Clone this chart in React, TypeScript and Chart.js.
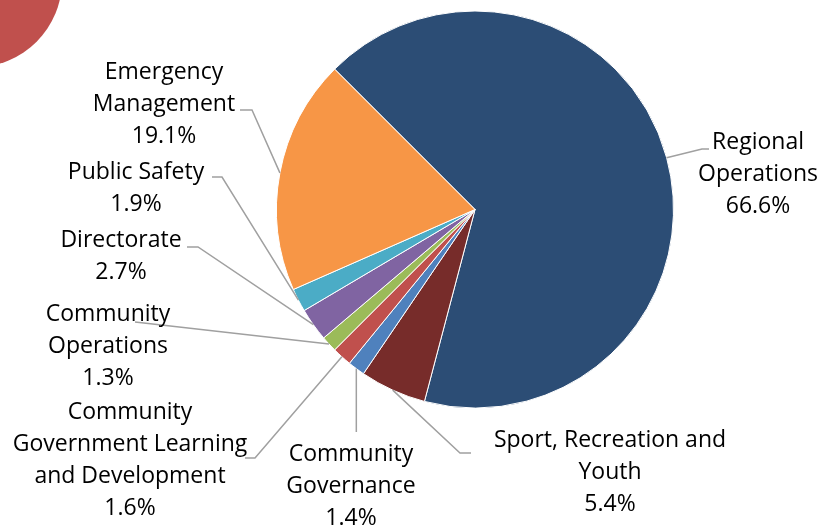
import React, { useEffect, useRef } from "react";
import { Chart, registerables } from "chart.js";

Chart.register(...registerables);

const categories = [
  "Regional Operations",
  "Sport, Recreation and Youth",
  "Community Governance",
  "Community Government Learning and Development",
  "Community Operations",
  "Directorate",
  "Public Safety",
  "Emergency Management",
];

const values = [66.6, 5.4, 1.4, 1.6, 1.3, 2.7, 1.9, 19.1];

const colors = [
  "#2C4D75",
  "#772C2A",
  "#4F81BD",
  "#C0504D",
  "#9BBB59",
  "#8064A2",
  "#4BACC6",
  "#F79646",
];

// Label layout: words per line, text centre x, first line centre y, leader elbow/end points
type Layout = {
  words: number[];
  cx: number;
  y0: number;
  leader: { x: number; y: number }[];
  vertical?: number;
};

const labelLayout: Layout[] = [
  { words: [1, 1], cx: 758, y0: 142, leader: [{ x: 702, y: 149 }, { x: 709, y: 149 }] },
  { words: [3, 1], cx: 610, y0: 440, leader: [{ x: 460, y: 453 }, { x: 471, y: 453 }] },
  { words: [1, 1], cx: 351, y0: 454, leader: [], vertical: 432 },
  { words: [1, 2, 2], cx: 130, y0: 412, leader: [{ x: 255, y: 458 }, { x: 245, y: 458 }] },
  { words: [1, 1], cx: 108, y0: 314, leader: [{ x: 135, y: 322 }] },
  { words: [1], cx: 121, y0: 240, leader: [{ x: 198, y: 247 }, { x: 187, y: 247 }] },
  { words: [2], cx: 136, y0: 172, leader: [{ x: 222, y: 177 }, { x: 212, y: 177 }] },
  { words: [1, 1], cx: 164, y0: 72, leader: [{ x: 252, y: 110 }, { x: 240, y: 110 }] },
];

const LINE_H = 32.3;
const FONT = '23px "Open Sans"';

const labelPlugin = {
  id: "pieLabels",
  afterDraw(chart: any) {
    const ctx = chart.ctx;
    const meta = chart.getDatasetMeta(0);
    const data = chart.data.datasets[0].data as number[];
    const total = data.reduce((a, b) => a + b, 0);
    ctx.save();
    meta.data.forEach((arc: any, i: number) => {
      const lay = labelLayout[i];
      if (!lay) return;
      const p = arc.getProps(["x", "y", "startAngle", "endAngle", "outerRadius"], true);
      const mid = (p.startAngle + p.endAngle) / 2;
      const ax = p.x + Math.cos(mid) * p.outerRadius;
      const ay = p.y + Math.sin(mid) * p.outerRadius;
      ctx.strokeStyle = "#A0A0A0";
      ctx.lineWidth = 1.5;
      ctx.beginPath();
      ctx.moveTo(ax, ay);
      if (lay.vertical !== undefined) {
        ctx.lineTo(ax, lay.vertical);
      }
      lay.leader.forEach((pt) => ctx.lineTo(pt.x, pt.y));
      ctx.stroke();

      const words = String(chart.data.labels[i]).split(" ");
      const lines: string[] = [];
      let k = 0;
      lay.words.forEach((n) => {
        lines.push(words.slice(k, k + n).join(" "));
        k += n;
      });
      if (k < words.length) lines[lines.length - 1] += " " + words.slice(k).join(" ");
      lines.push(((data[i] / total) * 100).toFixed(1) + "%");

      ctx.fillStyle = "#000000";
      ctx.font = FONT;
      ctx.textAlign = "center";
      ctx.textBaseline = "middle";
      lines.forEach((t, j) => ctx.fillText(t, lay.cx, lay.y0 + j * LINE_H));
    });
    ctx.restore();
  },
};

export default function App() {
  const ref = useRef<HTMLCanvasElement | null>(null);
  useEffect(() => {
    if (!ref.current) return;
    const chart = new Chart(ref.current, {
      type: "pie",
      data: {
        labels: categories,
        datasets: [
          {
            data: values,
            backgroundColor: colors,
            borderColor: "#ffffff",
            borderWidth: 1,
            hoverOffset: 0,
          },
        ],
      },
      options: {
        responsive: false,
        maintainAspectRatio: false,
        animation: false,
        devicePixelRatio: 1,
        rotation: -45,
        layout: { padding: { left: 276, right: 162, top: 10, bottom: 122 } },
        plugins: {
          legend: { display: false },
          tooltip: { enabled: false },
          title: { display: false },
        },
      },
      plugins: [labelPlugin],
    });
    return () => chart.destroy();
  }, []);

  return (
    <div
      style={{
        position: "absolute",
        left: 0,
        top: 0,
        width: 836,
        height: 531,
        overflow: "hidden",
        background: "#ffffff",
      }}
    >
      <div
        style={{
          position: "absolute",
          left: -111.5,
          top: -106.5,
          width: 173,
          height: 173,
          borderRadius: "50%",
          background: "#C0504D",
        }}
      />
      <canvas
        ref={ref}
        width={836}
        height={531}
        style={{ position: "absolute", left: 0, top: 0, width: 836, height: 531 }}
      />
    </div>
  );
}
